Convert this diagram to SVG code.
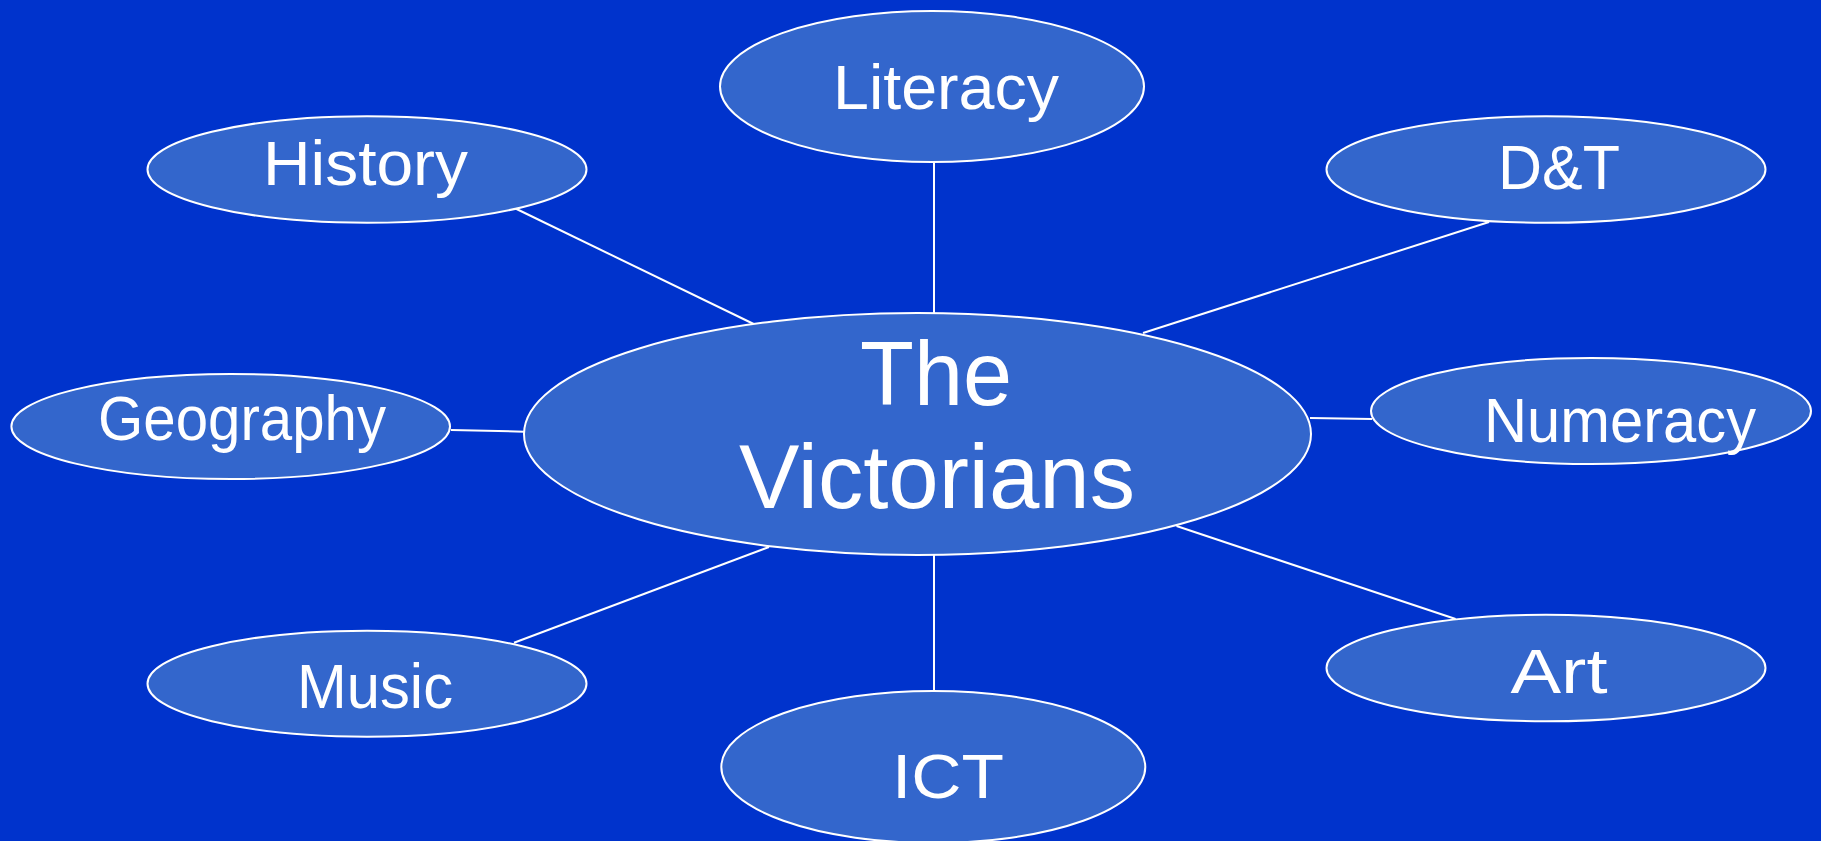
<svg xmlns="http://www.w3.org/2000/svg" width="1821" height="841" viewBox="0 0 1821 841">
<style>
.bg{fill:#0033CC}
.node ellipse{fill:#3366CC;stroke:#FFFFFF;stroke-width:2}
.node text{fill:#FFFFFF;font-family:"Liberation Sans","Open Sans",sans-serif;font-size:63px;text-anchor:middle}
.node text.big{font-size:91px}
#connectors line{stroke:#FFFFFF;stroke-width:2}
</style>
<rect class="bg" x="0" y="0" width="1821" height="841"/>
<g id="connectors">
<line x1="515.5" y1="208.5" x2="753.7" y2="324"/>
<line x1="934" y1="162" x2="934" y2="313"/>
<line x1="1489" y1="222" x2="1143" y2="333"/>
<line x1="451" y1="430" x2="524" y2="431.7"/>
<line x1="1310" y1="418" x2="1372" y2="419"/>
<line x1="514" y1="642.7" x2="769" y2="547"/>
<line x1="934" y1="555" x2="934" y2="691"/>
<line x1="1176.5" y1="526" x2="1455.6" y2="619"/>
</g>
<g id="center" class="node">
<ellipse cx="917.5" cy="434" rx="393.5" ry="121"/>
<text class="big" x="936" y="405" textLength="152" lengthAdjust="spacingAndGlyphs">The</text>
<text class="big" x="937" y="508" textLength="396" lengthAdjust="spacingAndGlyphs">Victorians</text>
</g>
<g id="literacy" class="node">
<ellipse cx="932" cy="86.5" rx="212" ry="75.5"/>
<text x="946" y="109" textLength="226" lengthAdjust="spacingAndGlyphs">Literacy</text>
</g>
<g id="history" class="node">
<ellipse cx="367" cy="169.5" rx="219.5" ry="53.3"/>
<text x="365.5" y="185" textLength="205" lengthAdjust="spacingAndGlyphs">History</text>
</g>
<g id="dt" class="node">
<ellipse cx="1546" cy="169.5" rx="219.5" ry="53.3"/>
<text x="1559" y="189" textLength="122" lengthAdjust="spacingAndGlyphs">D&amp;T</text>
</g>
<g id="geography" class="node">
<ellipse cx="230.7" cy="426.5" rx="219.3" ry="52.5"/>
<text x="242" y="440" textLength="288" lengthAdjust="spacingAndGlyphs">Geography</text>
</g>
<g id="numeracy" class="node">
<ellipse cx="1591" cy="411" rx="220" ry="53"/>
<text x="1620" y="442" textLength="272" lengthAdjust="spacingAndGlyphs">Numeracy</text>
</g>
<g id="music" class="node">
<ellipse cx="367" cy="683.7" rx="219.5" ry="53"/>
<text x="375" y="708" textLength="156" lengthAdjust="spacingAndGlyphs">Music</text>
</g>
<g id="art" class="node">
<ellipse cx="1546" cy="668" rx="219.5" ry="53.3"/>
<text x="1559" y="692.7" textLength="97" lengthAdjust="spacingAndGlyphs">Art</text>
</g>
<g id="ict" class="node">
<ellipse cx="933.3" cy="767" rx="212" ry="76"/>
<text x="948" y="798" textLength="112" lengthAdjust="spacingAndGlyphs">ICT</text>
</g>
</svg>
